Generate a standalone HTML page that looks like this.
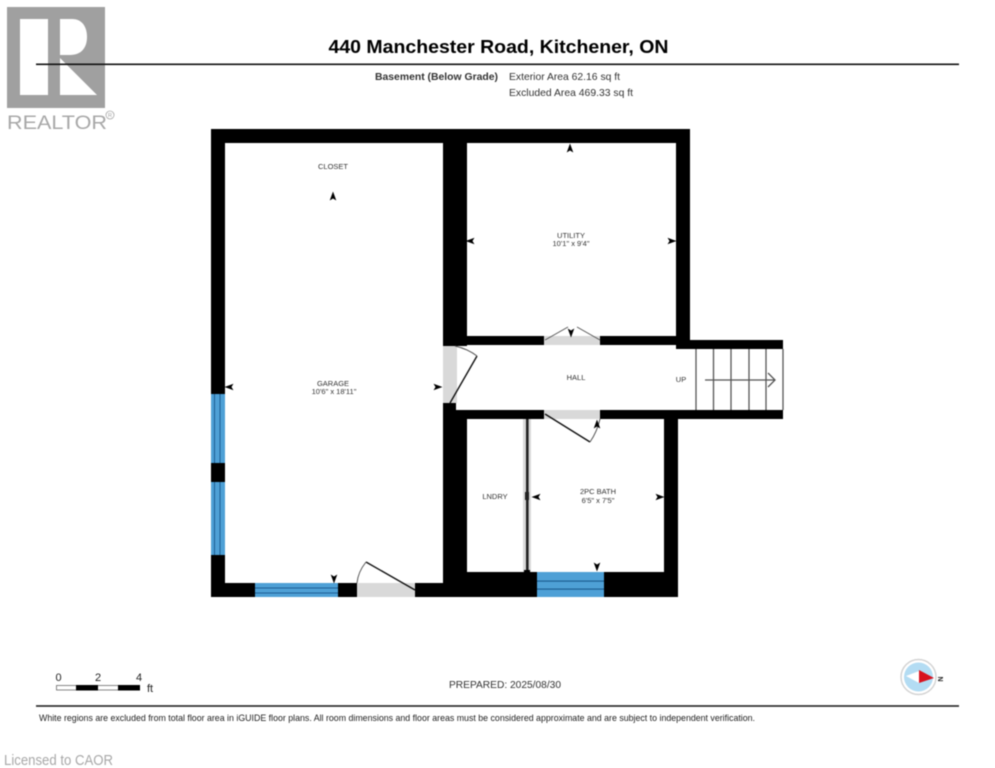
<!DOCTYPE html>
<html>
<head>
<meta charset="utf-8">
<style>
html,body{margin:0;padding:0;background:#fff;width:995px;height:768px;overflow:hidden}
svg{display:block;filter:blur(0.5px)}
text{font-family:"Liberation Sans",sans-serif}
.r{font-size:7.5px;fill:#333;text-anchor:middle}
</style>
</head>
<body>
<svg width="995" height="768" viewBox="0 0 995 768" xmlns="http://www.w3.org/2000/svg">
<defs>
<path id="au" d="M0,-5.500 L3.300,3.500 L0,1.500 L-3.300,3.500 Z" fill="#000"/>
</defs>
<rect width="995" height="768" fill="#fff"/>

<!-- Logo -->
<rect x="7" y="7" width="98" height="101" fill="#a0a0a0"/>
<rect x="20" y="19" width="28" height="76" fill="#fff"/>
<path d="M60,19 H72 C83,19 87,28 87,37 C87,48 81,55 70,55 H60 Z" fill="#fff"/>
<path d="M60,58 L97,95 H60 Z" fill="#fff"/>
<text x="7" y="129" font-size="19.500" fill="#a8a8a8" textLength="100" lengthAdjust="spacingAndGlyphs">REALTOR</text>
<circle cx="110" cy="115" r="4" fill="none" stroke="#a8a8a8" stroke-width="0.8"/>
<text x="110" y="117" font-size="5.500" fill="#a0a0a0" text-anchor="middle">R</text>

<!-- Header -->
<text x="498.500" y="53" font-size="18.500" font-weight="bold" fill="#000" text-anchor="middle" textLength="340" lengthAdjust="spacingAndGlyphs">440 Manchester Road, Kitchener, ON</text>
<rect x="36" y="63.500" width="923" height="1.600" fill="#111"/>
<text x="375" y="80" font-size="10" font-weight="bold" fill="#333" textLength="123" lengthAdjust="spacingAndGlyphs">Basement (Below Grade)</text>
<text x="509" y="80" font-size="10.500" fill="#333" textLength="111" lengthAdjust="spacingAndGlyphs">Exterior Area 62.16 sq ft</text>
<text x="509" y="96" font-size="10.500" fill="#333" textLength="124" lengthAdjust="spacingAndGlyphs">Excluded Area 469.33 sq ft</text>

<!-- Walls -->
<g fill="#000">
<rect x="211" y="129" width="479" height="14"/>
<rect x="211" y="129" width="14" height="468"/>
<rect x="443" y="129" width="24" height="217"/>
<rect x="676" y="129" width="14" height="220"/>
<rect x="456" y="336" width="220" height="9"/>
<rect x="676" y="340" width="107" height="9"/>
<rect x="443" y="403" width="13" height="20"/>
<rect x="456" y="410" width="327" height="9"/>
<rect x="443" y="417" width="24" height="180"/>
<rect x="664" y="410" width="14" height="187"/>
<rect x="443" y="572" width="235" height="25"/>
<rect x="211" y="583" width="240" height="14"/>
</g>

<!-- Door openings -->
<g fill="#d9d9d9">
<rect x="544" y="336" width="56" height="9"/>
<rect x="544" y="410" width="56" height="9"/>
<rect x="443" y="346" width="14" height="57"/>
<rect x="357" y="583" width="58" height="14"/>
<rect x="523" y="419" width="8" height="153"/>
</g>

<!-- Windows -->
<g fill="#4ea0d6">
<rect x="211" y="394" width="14" height="69"/>
<rect x="211" y="482" width="14" height="73"/>
<rect x="255" y="583" width="83" height="14"/>
<rect x="537" y="572" width="67" height="25"/>
</g>
<g fill="#1d5f93">
<rect x="214" y="394" width="1" height="69"/>
<rect x="219.500" y="394" width="1" height="69"/>
<rect x="214" y="482" width="1" height="73"/>
<rect x="219.500" y="482" width="1" height="73"/>
<rect x="255" y="587.500" width="83" height="1"/>
<rect x="255" y="592.500" width="83" height="1"/>
<rect x="537" y="580.500" width="67" height="1.200"/>
<rect x="537" y="588.500" width="67" height="1.200"/>
</g>

<!-- Partition -->
<rect x="526" y="419" width="2.600" height="153" fill="#222"/>
<rect x="525" y="492" width="4" height="8" fill="#222"/>
<rect x="524" y="570" width="6" height="3" fill="#000"/>

<!-- Door swings -->
<g fill="none" stroke="#111" stroke-width="1.400">
<path d="M415,590 L366,562"/>
<path d="M450,403 L477,356"/>
<path d="M545,414 L590,442"/>
</g>
<g fill="none" stroke="#555" stroke-width="1">
<path d="M366,562 Q358,572 357,583"/>
<path d="M477,356 Q468,349 455,346"/>
<path d="M590,442 Q597,432 600,419"/>
<path d="M545,340 L568,327"/>
<path d="M600,340 L577,327"/>
</g>

<!-- Stairs -->
<g stroke="#555" stroke-width="1.300" fill="none">
<path d="M696,349 V410 M713.500,349 V410 M731,349 V410 M749,349 V410 M766,349 V410 M783,349 V410"/>
<path d="M705,380 H775 M768,373 L775,380 L768,387"/>
</g>

<!-- Dimension arrowheads -->
<use href="#au" x="570" y="149"/>
<use href="#au" x="333" y="197"/>
<use href="#au" transform="translate(471,241) rotate(-90)"/>
<use href="#au" transform="translate(671,241) rotate(90)"/>
<use href="#au" transform="translate(571,332) rotate(180)"/>
<use href="#au" transform="translate(230,387) rotate(-90)"/>
<use href="#au" transform="translate(437,387) rotate(90)"/>
<use href="#au" transform="translate(334,578) rotate(180)"/>
<use href="#au" x="597" y="425"/>
<use href="#au" transform="translate(537,497) rotate(-90)"/>
<use href="#au" transform="translate(659,497) rotate(90)"/>
<use href="#au" transform="translate(597,566) rotate(180)"/>

<!-- Labels -->
<text class="r" x="333" y="169">CLOSET</text>
<text class="r" x="571" y="238">UTILITY</text>
<text class="r" x="571" y="246">10'1" x 9'4"</text>
<text class="r" x="333" y="386">GARAGE</text>
<text class="r" x="334" y="394">10'6" x 18'11"</text>
<text class="r" x="576" y="380">HALL</text>
<text class="r" x="681" y="382">UP</text>
<text class="r" x="495" y="499">LNDRY</text>
<text class="r" x="598" y="494">2PC BATH</text>
<text class="r" x="598" y="503">6'5" x 7'5"</text>

<!-- Scale -->
<text x="58.500" y="681" font-size="11" fill="#222" text-anchor="middle">0</text>
<text x="98" y="681" font-size="11" fill="#222" text-anchor="middle">2</text>
<text x="139" y="681" font-size="11" fill="#222" text-anchor="middle">4</text>
<text x="147" y="692" font-size="11" fill="#222">ft</text>
<rect x="56.500" y="685.500" width="83" height="4.500" fill="#fff" stroke="#555" stroke-width="0.700"/>
<rect x="76" y="685" width="22" height="5.500" fill="#000"/>
<rect x="118" y="685" width="22" height="5.500" fill="#000"/>

<text x="505" y="688" font-size="10" fill="#333" text-anchor="middle" textLength="112" lengthAdjust="spacingAndGlyphs">PREPARED: 2025/08/30</text>

<!-- Compass -->
<circle cx="918.500" cy="677" r="17.500" fill="#fff" stroke="#d2d2d2" stroke-width="1.400"/>
<circle cx="918.500" cy="677" r="14.500" fill="#b3dcf3"/>
<path d="M906,676 L919,671 L919,683 Z" fill="#fff"/>
<path d="M919,670 L934,678 L919,683 Z" fill="#d8131f"/>
<text x="941" y="682" font-size="7" font-weight="bold" fill="#222" text-anchor="middle" transform="rotate(90 941 679)">N</text>

<!-- Footer -->
<rect x="36" y="705.200" width="923" height="1.600" fill="#222"/>
<text x="39" y="721" font-size="9.200" fill="#222" textLength="716" lengthAdjust="spacingAndGlyphs">White regions are excluded from total floor area in iGUIDE floor plans. All room dimensions and floor areas must be considered approximate and are subject to independent verification.</text>
<text x="4" y="765" font-size="14.500" fill="#a8a8a8" textLength="109" lengthAdjust="spacingAndGlyphs">Licensed to CAOR</text>
</svg>
</body>
</html>
